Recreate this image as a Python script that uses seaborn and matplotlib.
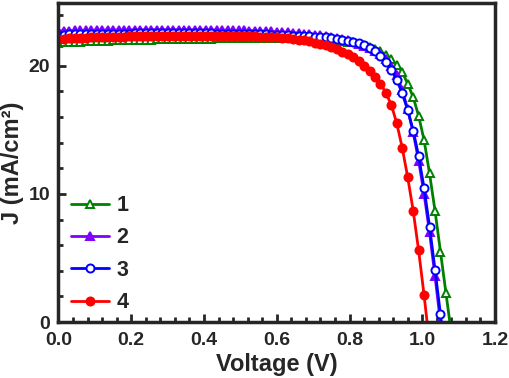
import matplotlib
matplotlib.use('Agg')
import matplotlib.pyplot as plt
from matplotlib.ticker import MultipleLocator
import numpy as np
import pandas as pd
import seaborn as sns

# voltage grid of the J-V sweep (V)
voltage = np.round(np.arange(0, 1.0951, 0.015), 3)

# current density (mA/cm2)
j1 = [21.80, 21.82, 21.84, 21.86, 21.88, 21.90, 21.92, 21.94, 21.95, 21.97,
      21.98, 21.99, 22.00, 22.01, 22.02, 22.03, 22.04, 22.05, 22.06, 22.07,
      22.08, 22.09, 22.10, 22.10, 22.11, 22.12, 22.12, 22.13, 22.13, 22.14,
      22.14, 22.15, 22.15, 22.15, 22.16, 22.16, 22.16, 22.16, 22.16, 22.16,
      22.16, 22.16, 22.15, 22.15, 22.14, 22.13, 22.12, 22.11, 22.09, 22.07,
      22.04, 22.00, 21.95, 21.89, 21.82, 21.73, 21.62, 21.49, 21.33, 21.14,
      20.85, 20.50, 20.05, 19.50, 18.60, 17.55, 16.10, 14.20, 11.60, 8.70,
      5.50, 2.30, -0.90]
j2 = [22.72, 22.74, 22.75, 22.76, 22.77, 22.78, 22.78, 22.79, 22.79, 22.80,
      22.80, 22.80, 22.81, 22.81, 22.81, 22.81, 22.82, 22.82, 22.82, 22.82,
      22.82, 22.82, 22.82, 22.82, 22.82, 22.81, 22.81, 22.81, 22.80, 22.80,
      22.79, 22.79, 22.78, 22.77, 22.76, 22.75, 22.74, 22.73, 22.71, 22.69,
      22.67, 22.65, 22.62, 22.59, 22.56, 22.52, 22.48, 22.43, 22.38, 22.32,
      22.25, 22.17, 22.08, 21.98, 21.86, 21.73, 21.58, 21.40, 21.18, 20.90,
      20.55, 20.00, 19.25, 18.10, 16.60, 14.80, 12.60, 10.00, 7.00, 3.60,
      0.00, -3.60]
j3 = [22.42, 22.44, 22.45, 22.46, 22.47, 22.48, 22.49, 22.50, 22.50, 22.51,
      22.51, 22.52, 22.52, 22.52, 22.53, 22.53, 22.53, 22.53, 22.54, 22.54,
      22.54, 22.54, 22.54, 22.54, 22.54, 22.54, 22.53, 22.53, 22.53, 22.52,
      22.52, 22.51, 22.51, 22.50, 22.49, 22.48, 22.47, 22.46, 22.45, 22.43,
      22.41, 22.40, 22.38, 22.36, 22.34, 22.32, 22.30, 22.27, 22.24, 22.21,
      22.18, 22.12, 22.05, 21.97, 21.87, 21.75, 21.60, 21.40, 21.15, 20.80,
      20.30, 19.70, 18.90, 17.85, 16.55, 14.95, 12.95, 10.45, 7.45, 4.10,
      0.60, -3.00]
j4 = [22.10, 22.12, 22.14, 22.16, 22.18, 22.20, 22.21, 22.22, 22.24, 22.25,
      22.26, 22.27, 22.28, 22.29, 22.30, 22.31, 22.31, 22.32, 22.33, 22.33,
      22.34, 22.34, 22.35, 22.35, 22.35, 22.35, 22.35, 22.35, 22.35, 22.34,
      22.34, 22.33, 22.33, 22.32, 22.31, 22.30, 22.29, 22.28, 22.26, 22.24,
      22.22, 22.18, 22.14, 22.09, 22.04, 21.98, 21.90, 21.81, 21.71, 21.59,
      21.45, 21.30, 21.10, 20.90, 20.65, 20.35, 20.00, 19.60, 19.15, 18.60,
      17.90, 16.95, 15.50, 13.60, 11.30, 8.70, 5.60, 2.10, -1.70]

labels = ['1', '2', '3', '4']
colors = ['#008000', '#8000ff', '#0000ff', '#ff0000']

sns.set_style('ticks')
plt.rcParams['font.family'] = ['Liberation Sans', 'DejaVu Sans']
plt.rcParams['font.weight'] = 'bold'
plt.rcParams['axes.labelweight'] = 'bold'

fig = plt.figure(figsize=(5.1, 3.78), dpi=100)
ax = fig.add_axes([0.1147, 0.148, 0.8559, 0.844])

styles = [
    dict(marker='^', markerfacecolor='white', markeredgecolor=colors[0]),
    dict(marker='^', markerfacecolor=colors[1], markeredgecolor=colors[1]),
    dict(marker='o', markerfacecolor='white', markeredgecolor=colors[2]),
    dict(marker='o', markerfacecolor=colors[3], markeredgecolor=colors[3]),
]
for j, lab, col, st in zip([j1, j2, j3, j4], labels, colors, styles):
    df = pd.DataFrame({'V': voltage[:len(j)], 'J': j})
    sns.lineplot(data=df, x='V', y='J', ax=ax, color=col, label=lab,
                 linewidth=2.0, markersize=5.8, markeredgewidth=1.4,
                 sort=False, errorbar=None, **st)

ax.set_xlim(0, 1.2)
ax.set_ylim(0, 24.9)
ax.xaxis.set_major_locator(MultipleLocator(0.2))
ax.xaxis.set_minor_locator(MultipleLocator(0.04))
ax.yaxis.set_major_locator(MultipleLocator(10))
ax.yaxis.set_minor_locator(MultipleLocator(2))
ax.tick_params(which='both', direction='in', width=2, labelsize=14)
ax.tick_params(which='major', length=6)
ax.tick_params(which='minor', length=3.5)
ax.tick_params(axis='x', pad=7)
ax.tick_params(axis='y', pad=6)
for sp in ax.spines.values():
    sp.set_linewidth(2.5)
ax.set_xlabel('Voltage (V)', fontsize=17, labelpad=3)
ax.set_ylabel('J (mA/cm²)', fontsize=17, labelpad=3)

ax.legend(loc='upper left', bbox_to_anchor=(0.01, 0.425), frameon=False,
          fontsize=15.5, handlelength=1.75, handletextpad=0.35,
          labelspacing=0.53, borderaxespad=0, numpoints=1)

fig.savefig('out.png', dpi=100)
